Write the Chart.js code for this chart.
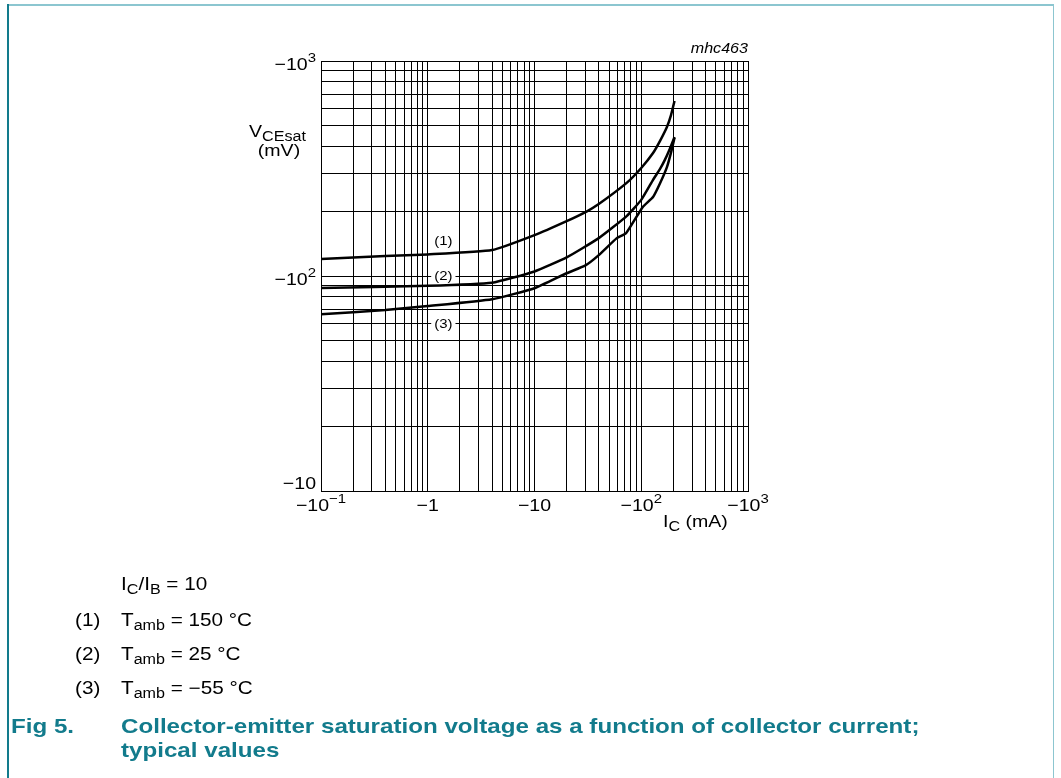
<!DOCTYPE html>
<html>
<head>
<meta charset="utf-8">
<script src="https://cdn.jsdelivr.net/npm/chart.js@4.4.1/dist/chart.umd.min.js"></script>
<style>
  html, body { margin: 0; padding: 0; background: #fff; }
  canvas { display: block; }
</style>
</head>
<body>
<canvas id="grafico" width="1061" height="778"></canvas>
<script>
// curve (1) Tamb = 150 C
const currentHot = [0.1, 0.4, 1, 4, 10, 20, 31, 40, 73, 100, 129, 150, 174, 190, 205]
const vceHot = [120, 124, 126, 132, 155, 180, 200, 216, 271, 318, 373, 425, 493, 560, 652]
// curve (2) Tamb = 25 C
const currentRoom = [0.1, 1, 4, 10, 20, 40, 73, 100, 129, 150, 166, 185, 205]
const vceRoom = [88, 90, 93, 105, 122, 150, 190, 226, 280, 315, 346, 390, 443]
// curve (3) Tamb = -55 C
const currentCold = [0.1, 0.4, 1, 4, 10, 20, 30, 40, 59, 72, 103, 129, 150, 174, 190, 205]
const vceCold = [66.4, 69.5, 72.5, 78, 87.7, 103, 112, 125, 150, 158, 209, 233, 270, 321, 375, 440]

const xTickValues = [0.1, 1, 10, 100, 1000]
const xTickBase = ['\u221210', '\u22121', '\u221210', '\u221210', '\u221210']
const xTickExp = ['\u22121', '', '', '2', '3']
const yTickValues = [10, 100, 1000]
const yTickBase = ['\u221210', '\u221210', '\u221210']
const yTickExp = ['', '2', '3']

const curveNames = ['(1)', '(2)', '(3)']
const curveLabelCurrent = [1.4, 1.4, 1.4]
const curveLabelVoltage = [145, 100, 60]

const STRETCH = 1.15
const FONT = '"Liberation Sans", Arial, Helvetica, sans-serif'
const TEAL = '#127b8c'

function toPoints(xs, ys) {
  return xs.map((x, i) => ({ x: x, y: ys[i] }))
}

function decadeTicks(min, max) {
  const out = []
  for (let e = Math.log10(min); e < Math.log10(max); e++) {
    for (let m = 1; m <= 9; m++) out.push({ value: m * Math.pow(10, e) })
  }
  out.push({ value: max })
  return out
}

function fontOf(p) {
  return (p.italic ? 'italic ' : '') + (p.bold ? 'bold ' : '') + p.size + 'px ' + FONT
}

function partsWidth(ctx, parts) {
  let w = 0
  parts.forEach(p => {
    ctx.font = fontOf(p)
    w += ctx.measureText(p.t).width * STRETCH
  })
  return w
}

// draws text made of pieces (normal, sub, sup), stretched sideways like the source
function drawParts(ctx, parts, x, y, align, color) {
  const w = partsWidth(ctx, parts)
  let cx = align === 'center' ? x - w / 2 : align === 'right' ? x - w : x
  parts.forEach(p => {
    ctx.font = fontOf(p)
    const pw = ctx.measureText(p.t).width * STRETCH
    ctx.save()
    ctx.translate(cx, y + (p.dy || 0))
    ctx.scale(STRETCH, 1)
    ctx.fillStyle = color || '#000'
    ctx.textAlign = 'left'
    ctx.textBaseline = 'alphabetic'
    ctx.fillText(p.t, 0, 0)
    ctx.restore()
    cx += pw
  })
  return w
}

function tickParts(base, exp) {
  const parts = [{ t: base, size: 17 }]
  if (exp) parts.push({ t: exp, size: 13, dy: -8 })
  return parts
}

const overlay = {
  id: 'overlay',
  afterDatasetsDraw(chart) {
    const ctx = chart.ctx
    const xs = chart.scales.x
    const ys = chart.scales.y
    // curve labels sit on white patches over the grid
    curveNames.forEach((name, i) => {
      const px = xs.getPixelForValue(curveLabelCurrent[i])
      const py = ys.getPixelForValue(curveLabelVoltage[i])
      const parts = [{ t: name, size: 13 }]
      const w = partsWidth(ctx, parts)
      ctx.fillStyle = '#fff'
      ctx.fillRect(px - w / 2 - 3, py - 7, w + 6, 13)
      drawParts(ctx, parts, px, py + 4, 'center')
    })
  },
  afterDraw(chart) {
    const ctx = chart.ctx
    const xs = chart.scales.x
    const ys = chart.scales.y
    const area = chart.chartArea

    // page frame
    ctx.fillStyle = '#8cc6d0'
    ctx.fillRect(8, 4, 1046, 2)
    ctx.fillRect(1053, 4, 1, 774)
    ctx.fillStyle = TEAL
    ctx.fillRect(7, 4, 2, 774)

    // tick labels
    xTickValues.forEach((v, i) => {
      drawParts(ctx, tickParts(xTickBase[i], xTickExp[i]), xs.getPixelForValue(v), area.bottom + 20, 'center')
    })
    yTickValues.forEach((v, i) => {
      const py = ys.getPixelForValue(v)
      const base = i === 0 ? py - 2 : py + 9
      drawParts(ctx, tickParts(yTickBase[i], yTickExp[i]), area.left - 5, base, 'right')
    })

    // axis titles
    drawParts(ctx, [{ t: 'V', size: 17 }, { t: 'CEsat', size: 14, dy: 4 }], 249, 137, 'left')
    drawParts(ctx, [{ t: '(mV)', size: 17 }], 279, 156, 'center')
    drawParts(ctx, [{ t: 'I', size: 17 }, { t: 'C', size: 14, dy: 4 }, { t: ' (mA)', size: 17 }], 663, 527, 'left')
    drawParts(ctx, [{ t: 'mhc463', size: 14, italic: true }], area.right, 53, 'right')

    // conditions
    drawParts(ctx, [{ t: 'I', size: 18 }, { t: 'C', size: 14, dy: 4 }, { t: '/I', size: 18 },
      { t: 'B', size: 14, dy: 4 }, { t: ' = 10', size: 18 }], 121, 590, 'left')
    const temps = ['150 \u00b0C', '25 \u00b0C', '\u221255 \u00b0C']
    temps.forEach((t, i) => {
      const y = 626 + i * 34
      drawParts(ctx, [{ t: curveNames[i], size: 18 }], 75, y, 'left')
      drawParts(ctx, [{ t: 'T', size: 18 }, { t: 'amb', size: 14, dy: 4 }, { t: ' = ' + t, size: 18 }], 121, y, 'left')
    })

    // caption
    drawParts(ctx, [{ t: 'Fig 5.', size: 21, bold: true }], 11, 733, 'left', TEAL)
    drawParts(ctx, [{ t: 'Collector-emitter saturation voltage as a function of collector current;', size: 21, bold: true }], 121, 733, 'left', TEAL)
    drawParts(ctx, [{ t: 'typical values', size: 21, bold: true }], 121, 757, 'left', TEAL)
  }
}

const lineStyle = {
  borderColor: '#000',
  borderWidth: 2.5,
  pointRadius: 0,
  fill: false,
  tension: 0.15
}

new Chart(document.getElementById('grafico'), {
  type: 'line',
  data: {
    datasets: [
      Object.assign({ label: '(1)', data: toPoints(currentHot, vceHot) }, lineStyle),
      Object.assign({ label: '(2)', data: toPoints(currentRoom, vceRoom) }, lineStyle),
      Object.assign({ label: '(3)', data: toPoints(currentCold, vceCold) }, lineStyle)
    ]
  },
  options: {
    responsive: false,
    animation: false,
    devicePixelRatio: 1,
    layout: { padding: { left: 321, top: 61, right: 313, bottom: 287 } },
    plugins: { legend: { display: false }, tooltip: { enabled: false } },
    scales: {
      x: {
        type: 'logarithmic',
        min: 0.1,
        max: 1000,
        afterBuildTicks: s => { s.ticks = decadeTicks(0.1, 1000) },
        ticks: { display: false, autoSkip: false },
        grid: { color: '#000', lineWidth: 1, drawTicks: false },
        border: { color: '#000', width: 1 }
      },
      y: {
        type: 'logarithmic',
        min: 10,
        max: 1000,
        afterBuildTicks: s => { s.ticks = decadeTicks(10, 1000) },
        ticks: { display: false, autoSkip: false },
        grid: { color: '#000', lineWidth: 1, drawTicks: false },
        border: { color: '#000', width: 1 }
      }
    }
  },
  plugins: [overlay]
})
</script>
</body>
</html>
